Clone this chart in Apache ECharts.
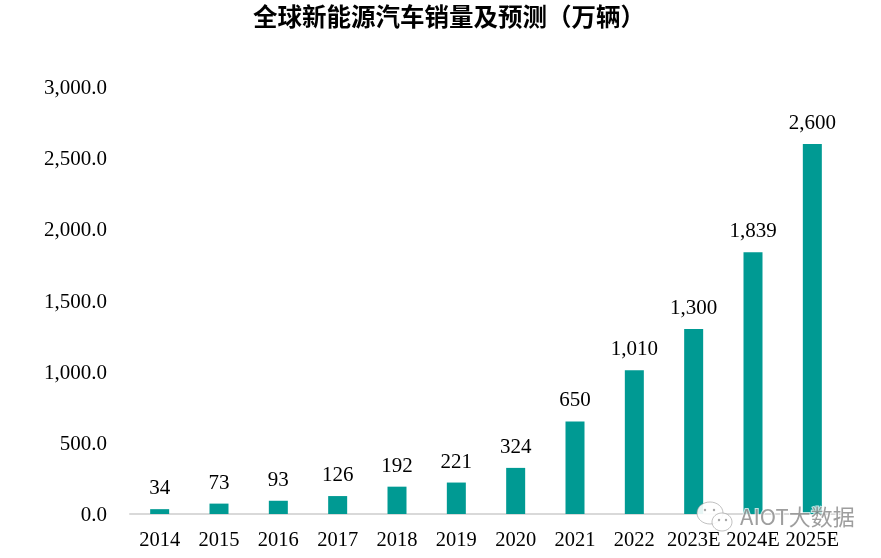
<!DOCTYPE html>
<html><head><meta charset="utf-8">
<style>html,body{margin:0;padding:0;background:#fff}#c{width:881px;height:558px}</style>
<script src="https://cdn.jsdelivr.net/npm/echarts@6/dist/echarts.min.js"></script>
</head><body><div id="c"></div>
<script>
const categories=['2014','2015','2016','2017','2018','2019','2020','2021','2022','2023E','2024E','2025E'];
const sales=[34,73,93,126,192,221,324,650,1010,1300,1839,2600];
const titleText='全球新能源汽车销量及预测（万辆）';
const watermark='AIOT大数据';
const serif='"Liberation Serif","Noto Serif CJK SC","Noto Sans CJK SC",serif';
const chart=echarts.init(document.getElementById('c'),null,{renderer:'canvas'});
const bubble=(cx,cy,rx,ry,z)=>({type:'ellipse',shape:{cx,cy,rx,ry},z,style:{fill:'rgba(255,255,255,0.9)',stroke:'rgba(150,150,150,0.6)',lineWidth:1}});
const eye=(cx,cy)=>({type:'circle',shape:{cx,cy,r:1.2},z:103,style:{fill:'rgba(130,130,130,0.7)'}});
chart.setOption({
 animation:false,
 title:{text:titleText,left:444,top:-1,textAlign:'center',textStyle:{fontFamily:'"Noto Sans CJK SC",sans-serif',fontSize:24.5,fontWeight:'bold',color:'#000'}},
 graphic:[
  bubble(710,513,13,11,101),bubble(722,522,10,9,102),
  eye(705,510),eye(714,510),eye(719,520),eye(726,520),
  {type:'text',left:739,top:505,z:104,style:{text:watermark,fontFamily:'"Noto Sans CJK SC",sans-serif',fontSize:22,fill:'rgba(125,125,125,0.75)',stroke:'rgba(255,255,255,0.75)',lineWidth:2}}
 ],
 grid:{left:130,right:39,top:87,bottom:44},
 xAxis:{type:'category',data:categories,axisTick:{show:false},axisLine:{lineStyle:{color:'#d9d9d9',width:2}},
  axisLabel:{color:'#000',fontFamily:serif,fontSize:20.5,margin:16,interval:0}},
 yAxis:{type:'value',min:0,max:3000,interval:500,splitLine:{show:false},axisLine:{show:false},axisTick:{show:false},
  axisLabel:{color:'#000',fontFamily:serif,fontSize:21,margin:23,
   formatter:v=>'{v|'+v.toLocaleString('en-US',{minimumFractionDigits:1,maximumFractionDigits:1})+'}',
   rich:{v:{color:'#000',fontFamily:serif,fontSize:21,padding:[3,0,0,0]}}}},
 series:[{type:'bar',data:sales,barWidth:19,itemStyle:{color:'#009a93'},
  label:{show:true,position:'top',distance:10,color:'#000',fontFamily:serif,fontSize:21,formatter:p=>p.value.toLocaleString('en-US')}}]
});
</script></body></html>
